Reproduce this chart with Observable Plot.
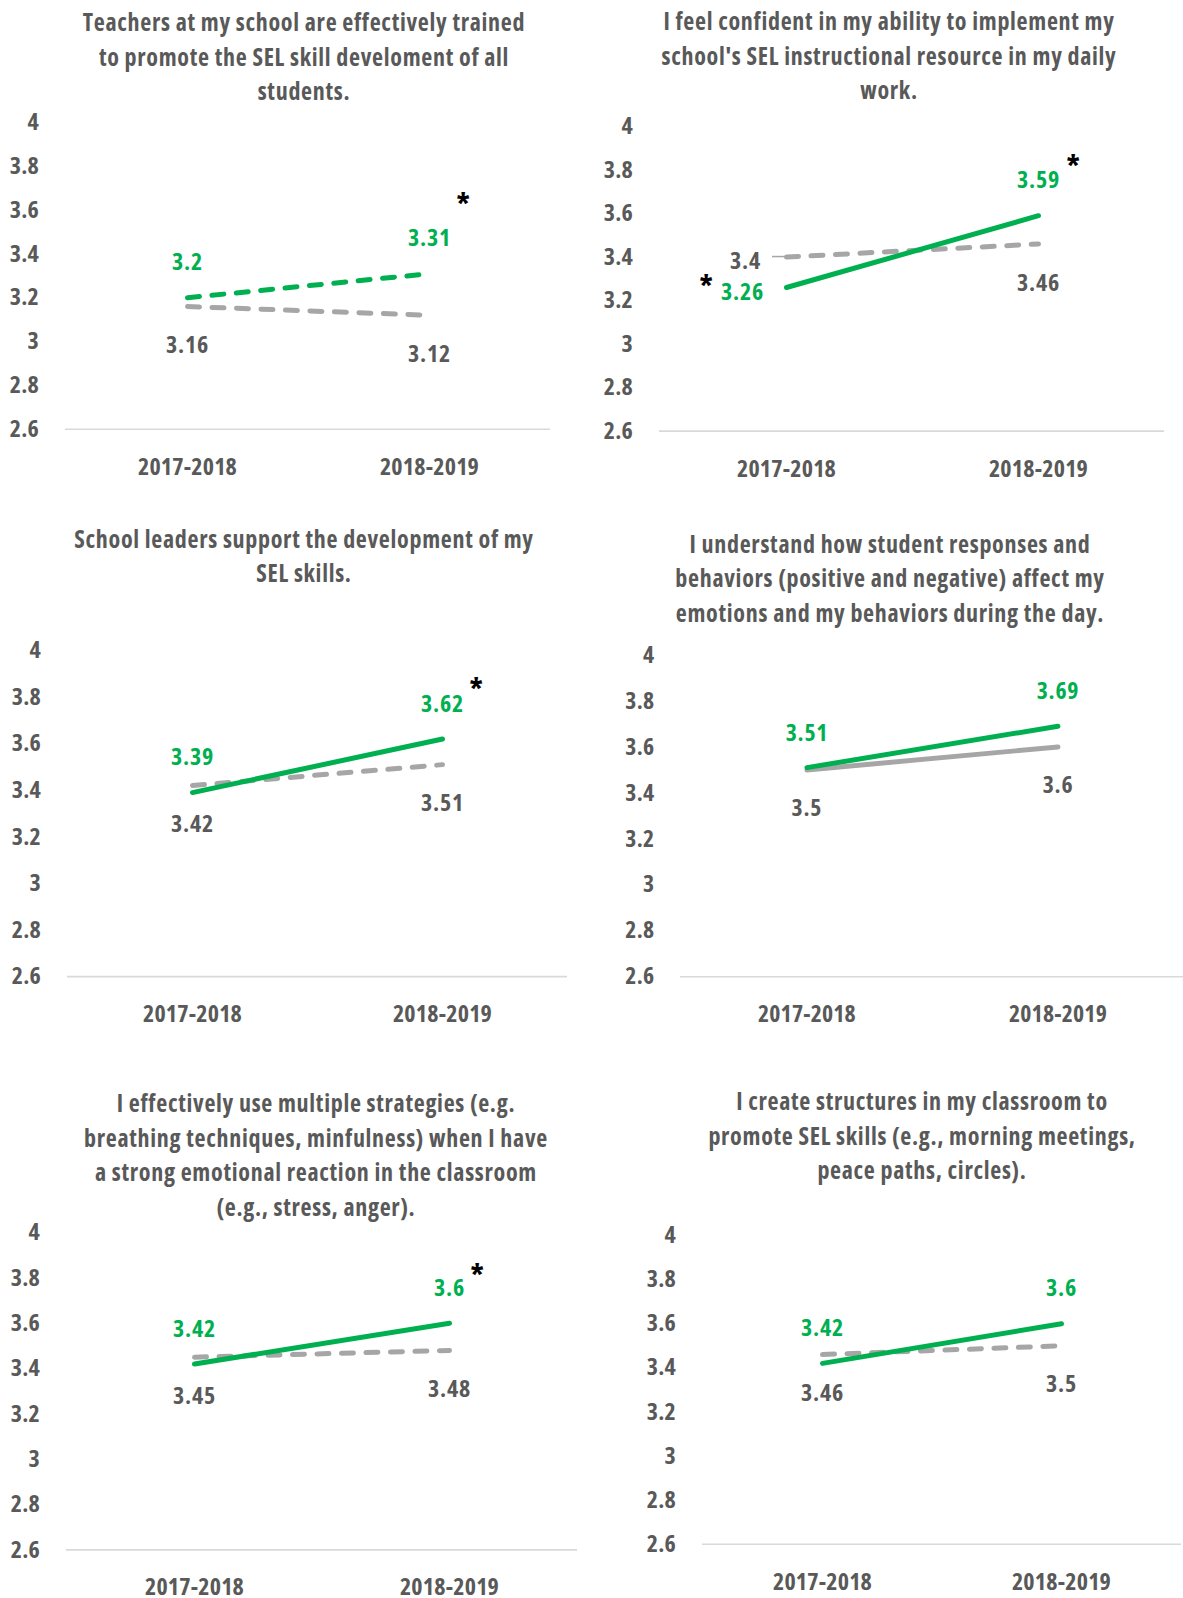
<!DOCTYPE html>
<html>
<head>
<meta charset="utf-8">
<script src="https://cdn.jsdelivr.net/npm/d3@7"></script>
<script src="https://cdn.jsdelivr.net/npm/@observablehq/plot@0.6"></script>
<style>
  html, body { margin: 0; padding: 0; background: #fff; }
  body { width: 1183px; height: 1598px; overflow: hidden; position: relative;
         font-family: "Open Sans", sans-serif; font-stretch: condensed; }
  .ptitle { position: absolute; transform: translateX(-50%); text-align: center; white-space: nowrap;
            color: #595959; font-weight: bold; font-size: 24px; line-height: 34.4px; letter-spacing: 0.7px; }
  .pwrap { position: absolute; }
  .pwrap svg text { font-stretch: condensed; letter-spacing: 0.2px; }
  .pwrap svg g[aria-label="text"] text { letter-spacing: 0.8px; }
</style>
</head>
<body>
<div id="root"></div>
<script>
// ---------------- data ----------------
const years = ["2017-2018", "2018-2019"];
const yTicks = [2.6, 2.8, 3, 3.2, 3.4, 3.6, 3.8, 4];
const titles = [
  ["Teachers at my school  are effectively trained", "to promote the SEL skill develoment of all", "students."],
  ["I feel confident in my ability to implement my", "school's SEL instructional resource in my daily", "work."],
  ["School leaders support the development of my", "SEL skills."],
  ["I understand how student responses and", "behaviors (positive and negative) affect my", "emotions and my behaviors during the day."],
  ["I effectively use multiple strategies (e.g.", "breathing techniques, minfulness) when I have", "a strong emotional reaction in the classroom", "(e.g., stress, anger)."],
  ["I create structures in my classroom to", "promote SEL skills (e.g., morning meetings,", "peace paths, circles)."]
];
const schoolScores = [[3.2, 3.31], [3.26, 3.59], [3.39, 3.62], [3.51, 3.69], [3.42, 3.6], [3.42, 3.6]];
const comparisonScores = [[3.16, 3.12], [3.4, 3.46], [3.42, 3.51], [3.5, 3.6], [3.45, 3.48], [3.46, 3.5]];
const schoolDashed = [true, false, false, false, false, false];
const comparisonDashed = [true, true, true, false, true, true];
const significance = [
  {panel: 0, year: "2018-2019"},
  {panel: 1, year: "2017-2018"},
  {panel: 1, year: "2018-2019"},
  {panel: 2, year: "2018-2019"},
  {panel: 4, year: "2018-2019"}
];

// ---------------- layout (pixels) ----------------
const layout = [
  {left: 0,   frameLeft: 65,  frameRight: 550,  yTop: 122.3, yBottom: 429,   titleX: 304, titleY: 22.4},
  {left: 590, frameLeft: 659, frameRight: 1164, yTop: 126.4, yBottom: 431,   titleX: 889, titleY: 21.4, leftStart: true},
  {left: 0,   frameLeft: 67,  frameRight: 567,  yTop: 650.1, yBottom: 976.2, titleX: 304, titleY: 539},
  {left: 590, frameLeft: 681, frameRight: 1190, yTop: 655.2, yBottom: 980.8, titleX: 890, titleY: 544.1},
  {left: 0,   frameLeft: 66,  frameRight: 577,  yTop: 1232,  yBottom: 1549.4, titleX: 316, titleY: 1103.6},
  {left: 590, frameLeft: 702, frameRight: 1181, yTop: 1235,  yBottom: 1543.7, titleX: 922, titleY: 1101.5}
];
const asteriskOffsets = [[34, -75], [-80, -7], [35, -55], [34, -56], [28, -54]];

const GREEN = "#00B050", GRAY = "#A6A6A6", TEXT = "#595959", BASE = "#D9D9D9";
const FONT = '"Open Sans", sans-serif';

const root = document.getElementById("root");

function lineOpts(stroke, dashed) {
  const o = {x: "year", y: "value", stroke, strokeWidth: 5, strokeLinecap: "round", strokeLinejoin: "round"};
  if (dashed) o.strokeDasharray = "12,12.5";
  return o;
}

function drawPanel(i) {
  const L = layout[i];
  const mt = 40, mb = 60;
  const height = (L.yBottom - L.yTop) + mt + mb;
  const width = L.frameRight - L.left;
  const school = years.map((year, j) => ({year, value: schoolScores[i][j]}));
  const comp = years.map((year, j) => ({year, value: comparisonScores[i][j]}));
  const fmt = d => String(d.value);

  const marks = [
    Plot.ruleY([2.6], {stroke: BASE, strokeWidth: 1.6}),
    Plot.line(comp, lineOpts(GRAY, comparisonDashed[i])),
    Plot.line(school, lineOpts(GREEN, schoolDashed[i]))
  ];

  if (L.leftStart) {
    marks.push(
      Plot.text(school.slice(1), {x: "year", y: "value", text: fmt, dy: -35, fill: GREEN}),
      Plot.text(comp.slice(1), {x: "year", y: "value", text: fmt, dy: 39, fill: TEXT}),
      Plot.text(school.slice(0, 1), {x: "year", y: "value", text: fmt, dx: -44, dy: 5, fill: GREEN}),
      Plot.text(comp.slice(0, 1), {x: "year", y: "value", text: fmt, dx: -41, dy: 4, fill: TEXT}),
      (index, scales) => {
        const x = scales.x(years[0]), y = scales.y(comparisonScores[i][0]);
        return d3.create("svg:line")
          .attr("x1", x - 14).attr("x2", x).attr("y1", y).attr("y2", y)
          .attr("stroke", GRAY).attr("stroke-width", 1.5).node();
      }
    );
  } else {
    marks.push(
      Plot.text(school, {x: "year", y: "value", text: fmt, dy: -35, fill: GREEN}),
      Plot.text(comp, {x: "year", y: "value", text: fmt, dy: 39, fill: TEXT})
    );
  }

  significance.forEach((s, k) => {
    if (s.panel !== i) return;
    const j = years.indexOf(s.year);
    const [dx, dy] = asteriskOffsets[k];
    marks.push(Plot.text([{year: s.year, value: schoolScores[i][j]}],
      {x: "year", y: "value", text: () => "*", dx, dy: dy + 7, fill: "#000", fontSize: 30, fontWeight: "bold"}));
  });

  const chart = Plot.plot({
    width, height,
    marginLeft: L.frameLeft - L.left, marginRight: 0,
    marginTop: mt, marginBottom: mb,
    x: {type: "point", domain: years, padding: 0.5, tickSize: 0, tickPadding: 28.5, label: null},
    y: {domain: [2.6, 4], ticks: yTicks, tickSize: 0, tickPadding: 26.5, label: null, tickFormat: d => String(d)},
    style: {fontFamily: FONT, fontSize: "24px", fontWeight: "bold", color: TEXT, background: "transparent", overflow: "hidden"},
    marks
  });

  const wrap = document.createElement("div");
  wrap.className = "pwrap";
  wrap.style.left = L.left + "px";
  wrap.style.top = (L.yTop - mt) + "px";
  wrap.appendChild(chart);
  root.appendChild(wrap);

  const t = document.createElement("div");
  t.className = "ptitle";
  t.style.left = L.titleX + "px";
  t.style.top = (L.titleY - 17.2) + "px";
  titles[i].forEach((line, k) => {
    if (k) t.appendChild(document.createElement("br"));
    t.appendChild(document.createTextNode(line));
  });
  root.appendChild(t);
}

for (let i = 0; i < 6; i++) drawPanel(i);
</script>
</body>
</html>
